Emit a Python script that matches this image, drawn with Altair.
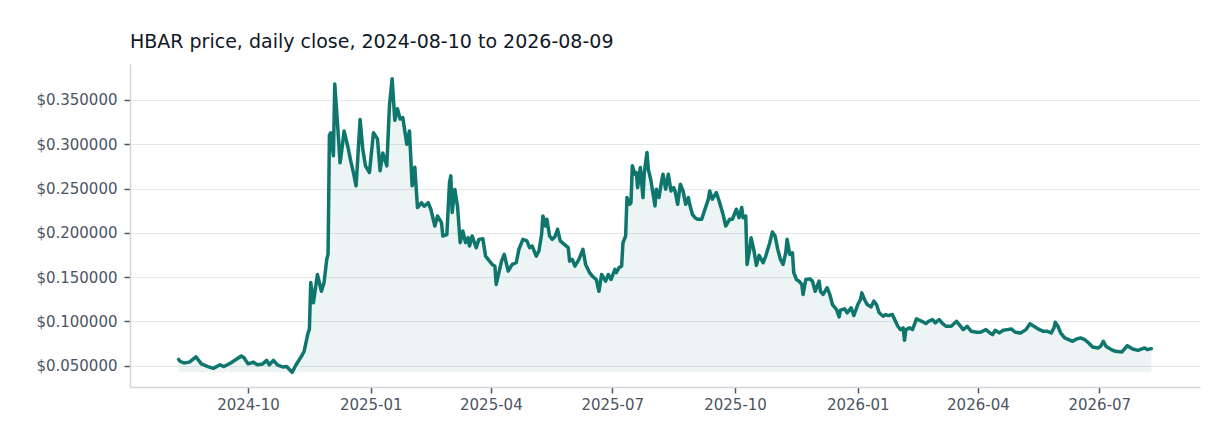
import altair as alt
import pandas as pd

# day offsets from 2024-08-10
day = [
    0, 1, 4, 8, 13, 17, 22, 26, 31, 34, 39, 43, 47, 49, 52, 56, 59, 63, 66, 68,
    71, 74, 78, 81, 85, 88, 92, 94, 97, 98, 99, 101, 104, 107, 109, 111, 112, 113,
    114, 116, 117, 119, 121, 122, 124, 127, 129, 131, 133, 136, 138, 140, 143, 146,
    149, 151, 153, 156, 158, 160, 162, 164, 166, 168, 171, 173, 175, 177, 179, 182,
    184, 187, 189, 192, 194, 197, 198, 201, 203, 204, 205, 207, 209, 211, 213, 215,
    217, 218, 220, 223, 225, 228, 230, 233, 235, 237, 238, 240, 242, 244, 247, 250,
    253, 255, 258, 261, 263, 265, 268, 270, 272, 273, 275, 276, 278, 280, 282, 284,
    286, 289, 292, 293, 295, 297, 300, 303, 305, 308, 310, 313, 315, 317, 320, 322,
    324, 327, 328, 330, 332, 333, 335, 336, 338, 339, 340, 342, 343, 344, 346, 348,
    349, 351, 352, 354, 357, 358, 360, 362, 363, 365, 367, 369, 371, 372, 374, 376,
    378, 380, 382, 383, 385, 387, 389, 392, 394, 397, 398, 400, 403, 405, 408, 410,
    413, 415, 418, 420, 422, 423, 425, 426, 428, 429, 431, 433, 435, 438, 440, 443,
    445, 447, 449, 451, 453, 455, 456, 458, 460, 461, 463, 465, 467, 468, 470, 473,
    475, 477, 480, 481, 483, 486, 488, 490, 493, 495, 496, 499, 501, 504, 506, 509,
    511, 512, 514, 516, 519, 521, 523, 525, 528, 530, 532, 535, 536, 539, 541, 543,
    544, 545, 548, 550, 553, 555, 557, 560, 562, 565, 567, 570, 572, 575, 579, 583,
    585, 588, 591, 594, 598, 601, 605, 608, 610, 612, 615, 618, 621, 624, 627, 631,
    635, 638, 641, 644, 648, 651, 654, 656, 657, 659, 661, 664, 667, 670, 673, 676,
    679, 682, 685, 689, 691, 693, 695, 699, 702, 707, 711, 715, 719, 724, 726, 729,
]

price = [
    0.057, 0.055, 0.053, 0.054, 0.060, 0.052, 0.049, 0.047, 0.051, 0.049, 0.053, 0.057,
    0.061, 0.059, 0.052, 0.054, 0.051, 0.052, 0.056, 0.051, 0.056, 0.051, 0.0485, 0.049,
    0.0425, 0.051, 0.0605, 0.066, 0.087, 0.091, 0.144, 0.121, 0.153, 0.134, 0.144, 0.170,
    0.176, 0.310, 0.313, 0.287, 0.368, 0.325, 0.279, 0.290, 0.315, 0.296, 0.281, 0.268,
    0.253, 0.328, 0.2945, 0.2756, 0.268, 0.313, 0.306, 0.270, 0.290, 0.2756, 0.3435, 0.374,
    0.327, 0.340, 0.3285, 0.330, 0.300, 0.315, 0.253, 0.274, 0.2285, 0.234, 0.230, 0.234,
    0.2266, 0.2077, 0.219, 0.2115, 0.1964, 0.198, 0.2568, 0.2643, 0.2229, 0.249, 0.230, 0.1889,
    0.202, 0.1889, 0.1945, 0.185, 0.1964, 0.1832, 0.1926, 0.1934, 0.1737, 0.168, 0.1643, 0.1624,
    0.1417, 0.155, 0.168, 0.1756, 0.1567, 0.1643, 0.1662, 0.1813, 0.1926, 0.1908, 0.1832, 0.185,
    0.1737, 0.1794, 0.198, 0.219, 0.2077, 0.2153, 0.1964, 0.1926, 0.1956, 0.204, 0.1908, 0.187,
    0.1832, 0.168, 0.170, 0.1624, 0.170, 0.1813, 0.1643, 0.155, 0.1511, 0.1473, 0.134, 0.153,
    0.1454, 0.153, 0.1473, 0.1587, 0.155, 0.1606, 0.1624, 0.1889, 0.1964, 0.2398, 0.2322, 0.234,
    0.2756, 0.2662, 0.268, 0.251, 0.2737, 0.2398, 0.268, 0.2907, 0.2718, 0.2586, 0.2303, 0.2492,
    0.2398, 0.2586, 0.2662, 0.2492, 0.2662, 0.2473, 0.251, 0.2473, 0.2322, 0.2549, 0.2473, 0.2322,
    0.2398, 0.2322, 0.2209, 0.2171, 0.2153, 0.2153, 0.2247, 0.238, 0.2473, 0.238, 0.2454, 0.2361,
    0.2209, 0.2077, 0.2153, 0.2153, 0.2266, 0.2171, 0.2285, 0.2171, 0.219, 0.1643, 0.1813, 0.1945,
    0.1813, 0.1632, 0.1745, 0.1662, 0.1737, 0.1889, 0.2009, 0.1964, 0.1813, 0.170, 0.1643, 0.1775,
    0.1926, 0.1756, 0.1775, 0.155, 0.1473, 0.1454, 0.1417, 0.1304, 0.1473, 0.148, 0.1454, 0.134,
    0.1454, 0.134, 0.1304, 0.138, 0.1304, 0.119, 0.1134, 0.1051, 0.1126, 0.1142, 0.1097, 0.1153,
    0.1066, 0.119, 0.1247, 0.1322, 0.1247, 0.119, 0.1164, 0.1228, 0.119, 0.1097, 0.1058, 0.1077,
    0.1066, 0.1077, 0.104, 0.0945, 0.0907, 0.0927, 0.0787, 0.0907, 0.0927, 0.0907, 0.1028, 0.1013,
    0.1001, 0.0975, 0.1001, 0.1021, 0.0983, 0.1021, 0.0983, 0.0945, 0.0945, 0.1001, 0.0964, 0.0907,
    0.0945, 0.0888, 0.0877, 0.0877, 0.0907, 0.087, 0.0851, 0.090, 0.087, 0.090, 0.0907, 0.0915,
    0.0877, 0.087, 0.0907, 0.0972, 0.0945, 0.0915, 0.0888, 0.0888, 0.087, 0.0927, 0.099, 0.0945,
    0.087, 0.0813, 0.0794, 0.0775, 0.0802, 0.0813, 0.0794, 0.0757, 0.0711, 0.070, 0.0719, 0.0775,
    0.0719, 0.0681, 0.0662, 0.0655, 0.0726, 0.0689, 0.0673, 0.070, 0.0681, 0.0692,
]

start = pd.Timestamp("2024-08-10")
df = pd.DataFrame({
    "date": start + pd.to_timedelta(day, unit="D"),
    "price": price,
})
df["base"] = df["price"].min()

# 5% padding around the data on both axes
lo, hi = df["price"].min(), df["price"].max()
pad = (hi - lo) * 0.05
t0, t1 = df["date"].min(), df["date"].max()
tpad = (t1 - t0) * 0.05
x_dom = [(t0 - tpad).isoformat(), (t1 + tpad).isoformat()]

teal = "#0f766e"

base = alt.Chart(df).encode(
    x=alt.X("date:T", title=None,
            scale=alt.Scale(domain=x_dom),
            axis=alt.Axis(format="%Y-%m", tickCount={"interval": "month", "step": 3},
                          grid=False, labelPadding=4)),
)

area = base.mark_area(color=teal, opacity=0.08).encode(
    y=alt.Y("price:Q"),
    y2="base:Q",
)

line = base.mark_line(color=teal, strokeWidth=3.5, strokeJoin="round", strokeCap="round").encode(
    y=alt.Y("price:Q", title=None,
            scale=alt.Scale(domain=[lo - pad, hi + pad], nice=False, zero=False),
            axis=alt.Axis(format="$.6f", grid=True, labelPadding=7)),
)

chart = (area + line).properties(
    width=1070, height=323,
    autosize=alt.AutoSizeParams(type="none"),
    padding={"left": 122, "top": 56, "right": 24, "bottom": 40},
    title=alt.TitleParams("HBAR price, daily close, 2024-08-10 to 2026-08-09",
                          frame="group", anchor="start"),
).configure_view(
    strokeWidth=0
).configure_axis(
    labelFont="DejaVu Sans", labelFontSize=15, labelColor="#4b5563",
    domainColor="#d1d5db", domainWidth=1.5, tickColor="#4b5563", tickSize=6,
    tickWidth=1.5, gridColor="#e5e7eb", gridWidth=1.2,
).configure_title(
    font="DejaVu Sans", fontSize=19, fontWeight="normal", color="#111827",
    offset=12,
)

chart.save("out.html", embed_options={"renderer": "svg", "actions": False})
